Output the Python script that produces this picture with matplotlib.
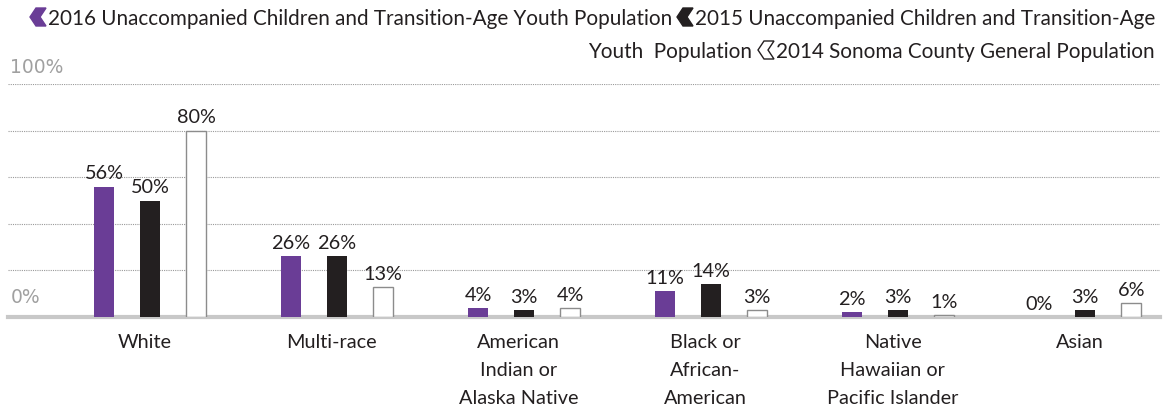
import matplotlib.pyplot as plt
from matplotlib.patches import Polygon
import numpy as np

plt.rcParams['font.family'] = ['Lato', 'DejaVu Sans']
plt.rcParams['font.size'] = 14

categories = ['White', 'Multi-race', 'American\nIndian or\nAlaska Native',
              'Black or\nAfrican-\nAmerican', 'Native\nHawaiian or\nPacific Islander', 'Asian']
pop_2016 = [56, 26, 4, 11, 2, 0]
pop_2015 = [50, 26, 3, 14, 3, 3]
pop_2014 = [80, 13, 4, 3, 1, 6]
legend_labels = ['2016 Unaccompanied Children and Transition-Age Youth Population',
                 '2015 Unaccompanied Children and Transition-Age',
                 'Youth  Population',
                 '2014 Sonoma County General Population']

purple = '#6a3d96'
black = '#231f20'
W, H = 1171, 412

fig = plt.figure(figsize=(W / 100, H / 100), dpi=100)
ax = fig.add_axes([8 / W, 1 - 317 / H, 1152 / W, 233 / H])

x = np.arange(len(categories))
bw = 0.107
off = 0.246
ax.bar(x - off, pop_2016, bw, color=purple, zorder=3)
ax.bar(x, pop_2015, bw, color=black, zorder=3)
ax.bar(x + off, pop_2014, bw, color='white', edgecolor='#8c8c8c', linewidth=1, zorder=3)

for dx, vals in [(-off, pop_2016), (0, pop_2015), (off, pop_2014)]:
    for xi, v in zip(x, vals):
        ax.annotate(f'{v}%', (xi + dx, v), xytext=(0, 3), textcoords='offset points',
                    ha='center', va='bottom', fontsize=14.3, color=black, zorder=4)

for g in [20, 40, 60, 80, 100]:
    ax.axhline(g, color='#9a9a9a', lw=0.8, ls=(0, (1, 1)), zorder=1)
ax.axhline(0, color='#c8c8c8', lw=3, zorder=2, clip_on=False)

ax.set_xlim(-0.759, 5.40)
ax.set_ylim(0, 100)
ax.axis('off')

narrow = ['Liberation Sans Narrow', 'DejaVu Sans']
ax.annotate('100%', (0.002, 100), xycoords=ax.get_yaxis_transform(), xytext=(0, 5),
            textcoords='offset points', ha='left', va='bottom', fontsize=13.5,
            color='#a0a0a0', family=narrow)
ax.annotate('0%', (0.002, 0), xycoords=ax.get_yaxis_transform(), xytext=(0, 7),
            textcoords='offset points', ha='left', va='bottom', fontsize=13.5,
            color='#a0a0a0', family=narrow)

for xi, lab in zip(x, categories):
    ax.annotate(lab, (xi - 0.03, 0), xytext=(0, -12), textcoords='offset points',
                ha='center', va='top', fontsize=14.3, color=black, linespacing=1.8)


def chevron(x0, y0, filled, color):
    # chevron marker in image pixel coords (y from top)
    pts = [(x0 + 16, y0), (x0 + 6, y0), (x0, y0 + 9), (x0 + 6, y0 + 18),
           (x0 + 16, y0 + 18), (x0 + 10, y0 + 9)]
    pts = [(px / W, 1 - py / H) for px, py in pts]
    p = Polygon(pts, closed=True, transform=fig.transFigure,
                facecolor=color if filled else 'none', edgecolor=color, lw=1)
    fig.add_artist(p)


fs = 14.9
chevron(30, 8, True, purple)
fig.text(48 / W, 1 - 25 / H, legend_labels[0], fontsize=fs, color=black, va='baseline')
chevron(677, 8, True, black)
fig.text(695 / W, 1 - 25 / H, legend_labels[1], fontsize=fs, color=black, va='baseline')
fig.text(752 / W, 1 - 58 / H, legend_labels[2], fontsize=fs, color=black, va='baseline', ha='right')
chevron(758, 41, False, black)
fig.text(776 / W, 1 - 58 / H, legend_labels[3], fontsize=fs, color=black, va='baseline')

plt.savefig('out.png', dpi=100)
